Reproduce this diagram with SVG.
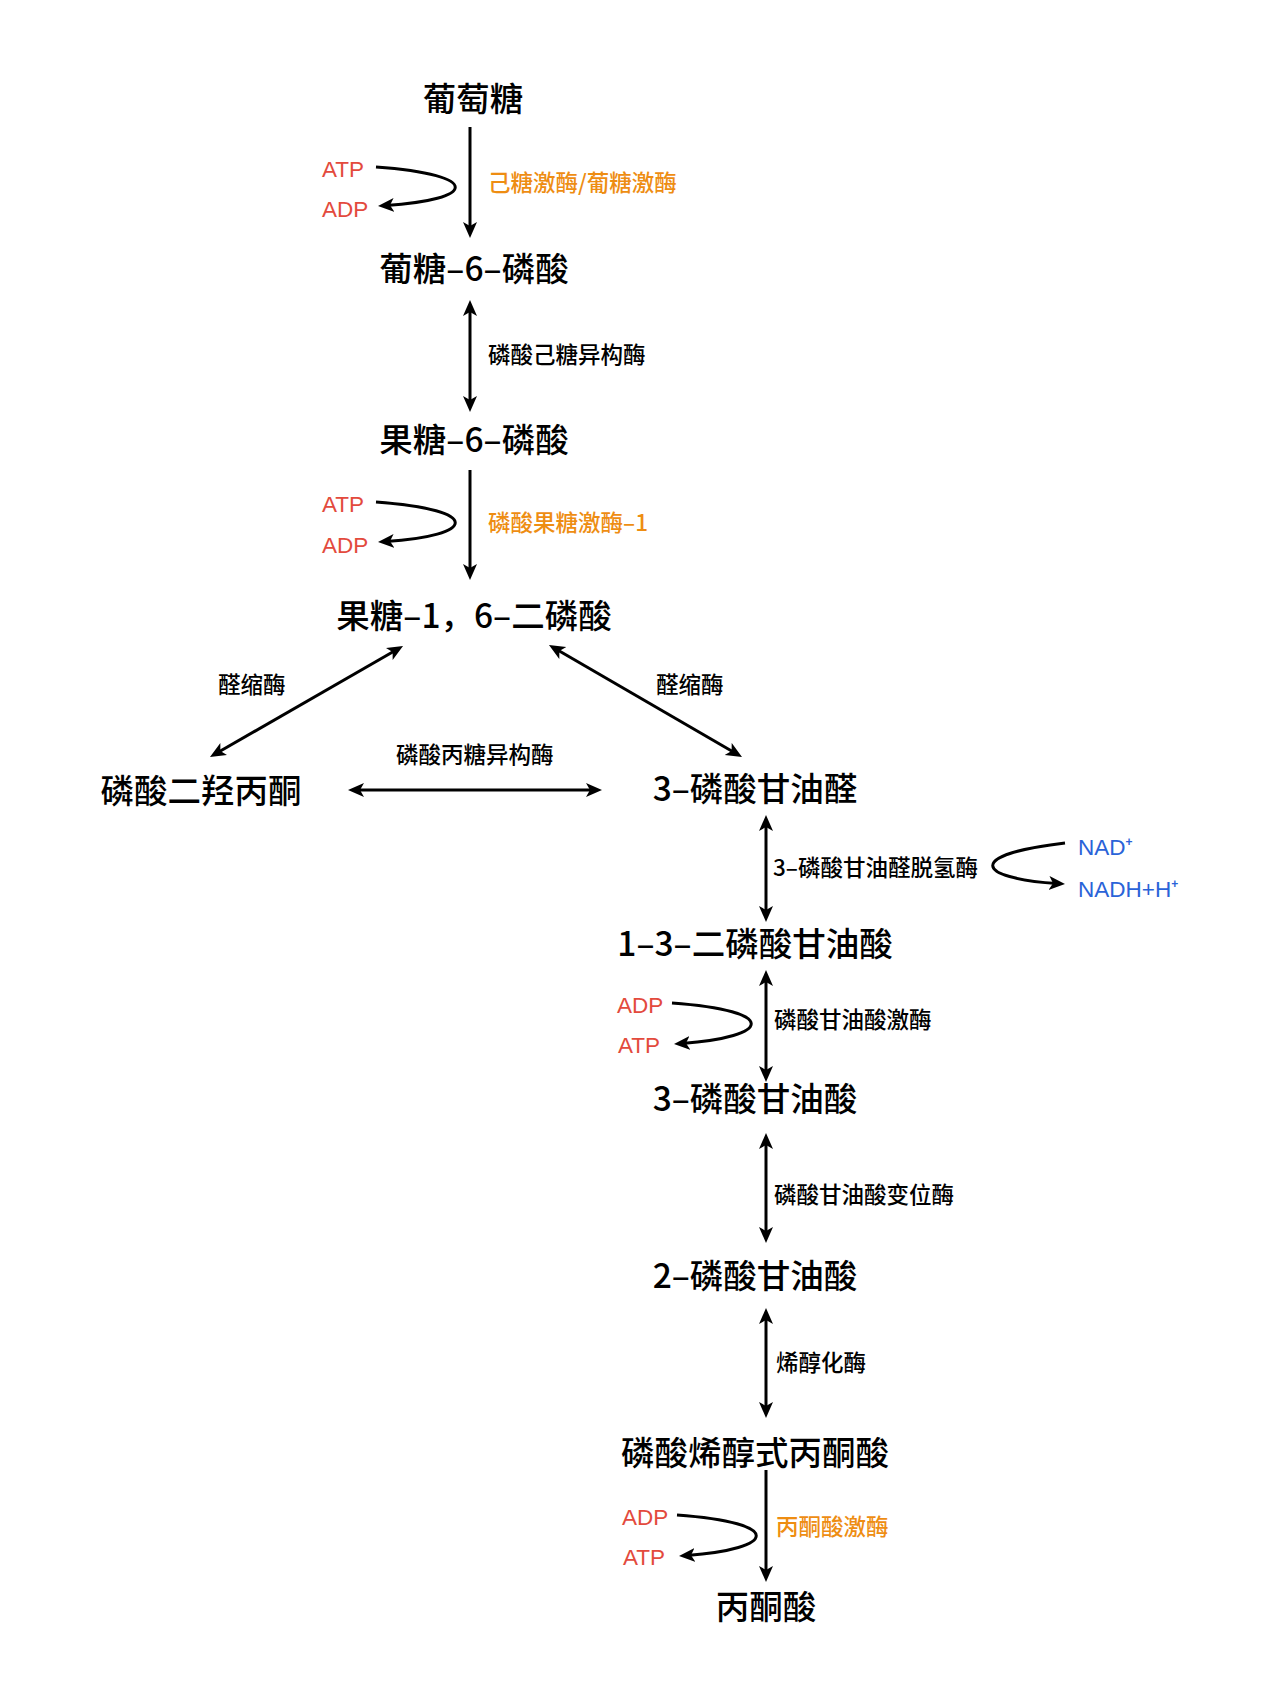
<svg xmlns="http://www.w3.org/2000/svg" width="1280" height="1706" viewBox="0 0 1280 1706">
  <style>
    .node { font-family: "Noto Sans CJK SC", "Noto Sans", sans-serif; font-size: 33.5px; font-weight: 500; fill: #000; text-anchor: middle; }
    .enz { font-family: "Noto Sans CJK SC", "Noto Sans", sans-serif; font-size: 22.5px; font-weight: 500; fill: #000; }
    .org { fill: #EE8D12; }
    .red { font-family: "Liberation Sans", "Noto Sans CJK SC", sans-serif; font-size: 22.5px; fill: #E34A3D; }
    .blue { font-family: "Liberation Sans", "Noto Sans CJK SC", sans-serif; font-size: 22.5px; fill: #2A63D8; }
    .ln { fill: none; stroke: #000; stroke-width: 3; }
    .one { marker-end: url(#ah); }
    .two { marker-end: url(#ah); marker-start: url(#ah); }
  </style>
  <defs>
    <marker id="ah" markerUnits="userSpaceOnUse" markerWidth="17" markerHeight="15" refX="8" refY="7" orient="auto-start-reverse">
      <path d="M0,0 L16,7 L0,14 L4,7 Z" fill="#000"/>
    </marker>
  </defs>
  <rect width="1280" height="1706" fill="#fff"/>

  <g id="connectors">
    <path class="ln one" d="M470,127 L470,230"/>
    <path class="ln two" d="M470,308 L470,404"/>
    <path class="ln one" d="M470,470 L470,572"/>
    <path class="ln two" d="M396.1,650 L216.9,753"/>
    <path class="ln two" d="M555.9,649 L735.1,753"/>
    <path class="ln two" d="M356,790 L594,790"/>
    <path class="ln two" d="M766,823 L766,914"/>
    <path class="ln two" d="M766,978 L766,1074"/>
    <path class="ln two" d="M766,1141 L766,1235"/>
    <path class="ln two" d="M766,1316 L766,1410"/>
    <path class="ln one" d="M766,1470 L766,1574"/>
    <path class="ln one" d="M376,167 C 485,175 475,200 386,205.5"/>
    <path class="ln one" d="M376,502 C 485,510 475,536 386,541.5"/>
    <path class="ln one" d="M672,1003 C 781,1011 771,1037 682,1043.5"/>
    <path class="ln one" d="M677,1515 C 786,1523 776,1549 687,1555.5"/>
    <path class="ln one" d="M1065,843 C 965,855 975,878 1057,883.5"/>
  </g>

  <g id="n-glucose"><text class="node" x="473" y="111">葡萄糖</text></g>
  <g id="n-g6p"><text class="node" x="474" y="281">葡糖–6–磷酸</text></g>
  <g id="n-f6p"><text class="node" x="474" y="452">果糖–6–磷酸</text></g>
  <g id="n-f16bp"><text class="node" x="474" y="628">果糖–1，6–二磷酸</text></g>
  <g id="n-dhap"><text class="node" x="201" y="803">磷酸二羟丙酮</text></g>
  <g id="n-g3p"><text class="node" x="755" y="801">3–磷酸甘油醛</text></g>
  <g id="n-13bpg"><text class="node" x="755" y="956">1–3–二磷酸甘油酸</text></g>
  <g id="n-3pg"><text class="node" x="755" y="1111">3–磷酸甘油酸</text></g>
  <g id="n-2pg"><text class="node" x="755" y="1288">2–磷酸甘油酸</text></g>
  <g id="n-pep"><text class="node" x="755" y="1465">磷酸烯醇式丙酮酸</text></g>
  <g id="n-pyruvate"><text class="node" x="766" y="1619">丙酮酸</text></g>

  <g id="labels">
    <text class="enz org" x="488" y="191">己糖激酶/葡糖激酶</text>
    <text class="enz" x="488" y="363">磷酸己糖异构酶</text>
    <text class="enz org" x="488" y="531">磷酸果糖激酶–1</text>
    <text class="enz" x="218" y="693">醛缩酶</text>
    <text class="enz" x="656" y="693">醛缩酶</text>
    <text class="enz" x="396" y="763">磷酸丙糖异构酶</text>
    <text class="enz" x="773" y="876">3–磷酸甘油醛脱氢酶</text>
    <text class="enz" x="774" y="1028">磷酸甘油酸激酶</text>
    <text class="enz" x="774" y="1203">磷酸甘油酸变位酶</text>
    <text class="enz" x="776" y="1371">烯醇化酶</text>
    <text class="enz org" x="776" y="1535">丙酮酸激酶</text>

    <text class="red" x="322" y="177">ATP</text>
    <text class="red" x="322" y="217">ADP</text>
    <text class="red" x="322" y="512">ATP</text>
    <text class="red" x="322" y="553">ADP</text>
    <text class="red" x="617" y="1013">ADP</text>
    <text class="red" x="618" y="1053">ATP</text>
    <text class="red" x="622" y="1525">ADP</text>
    <text class="red" x="623" y="1565">ATP</text>
    <text class="blue" x="1078" y="855">NAD<tspan font-size="12" font-weight="bold" dy="-9">+</tspan></text>
    <text class="blue" x="1078" y="897">NADH+H<tspan font-size="12" font-weight="bold" dy="-9">+</tspan></text>
  </g>
</svg>
